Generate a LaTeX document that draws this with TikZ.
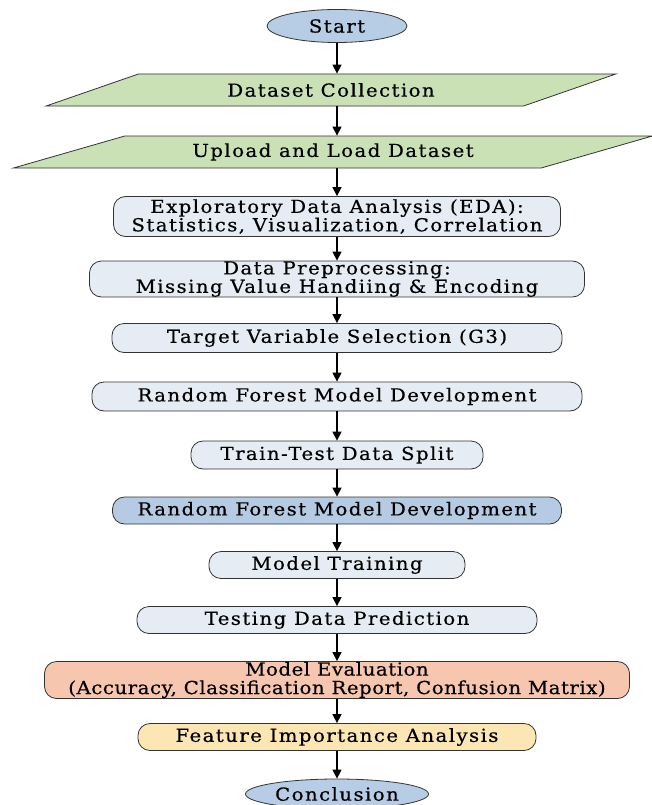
\documentclass[tikz,border=0pt]{standalone}
\usepackage{fontspec}
\usepackage{xcolor}
\usetikzlibrary{shapes.geometric,arrows.meta}

\newfontfamily\boxfont{DejaVu Serif}[FakeStretch=1.1, LetterSpace=8, FakeBold=0.5]
\newfontfamily\evalfont{DejaVu Serif}[FakeStretch=1.1, LetterSpace=3, FakeBold=0.5]

\definecolor{termblue}{HTML}{B7CDE5}
\definecolor{iogreen}{HTML}{C9E1B5}
\definecolor{procgray}{HTML}{E6ECF3}
\definecolor{modelblue}{HTML}{B5CBE3}
\definecolor{evalsalmon}{HTML}{F6C6AF}
\definecolor{featyellow}{HTML}{FCE6B3}

\begin{document}
\begin{tikzpicture}[x=1bp, y=-1bp,
    every node/.style = {draw=black!80, line width=0.8pt, align=center,
      inner sep=0pt, text=black, font=\boxfont\fontsize{18}{18.5}\selectfont},
    term/.style = {shape=ellipse, fill=termblue},
    io/.style = {shape=trapezium, trapezium stretches=true, fill=iogreen},
    proc/.style = {shape=rectangle, rounded corners=12bp, fill=procgray},
    flow/.style = {-{Triangle[length=9bp,width=9bp]}, line width=1.4pt}]
    \useasboundingbox (0,0) rectangle (652,805);
    \node[term, minimum width=140bp, minimum height=33bp] (start) at (337,26) {Start};
    \node[io, trapezium left angle=15.6, trapezium right angle=164.4,
      minimum width=572bp, minimum height=32bp] (collect) at (331,90) {Dataset Collection};
    \node[io, trapezium left angle=13, trapezium right angle=167,
      minimum width=640bp, minimum height=32bp] (upload) at (333,152) {Upload and Load Dataset};
    \node[proc, minimum width=447bp, minimum height=40bp] (eda) at (337,216.5)
      {Exploratory Data Analysis (EDA):\\Statistics, Visualization, Correlation};
    \node[proc, minimum width=495bp, minimum height=36bp] (prep) at (337,279)
      {Data Preprocessing:\\Missing Value Handiing \& Encoding};
    \node[proc, minimum width=450bp, minimum height=29bp] (target) at (337,338)
      {Target Variable Selection (G3)};
    \node[proc, minimum width=490bp, minimum height=29bp] (rfdev) at (337,396.5)
      {Random Forest Model Development};
    \node[proc, minimum width=292bp, minimum height=28bp] (split) at (337,455)
      {Train-Test Data Split};
    \node[proc, fill=modelblue, minimum width=449bp, minimum height=27bp] (rfmodel) at (337,510.5)
      {Random Forest Model Development};
    \node[proc, minimum width=256bp, minimum height=27bp] (train) at (337,565)
      {Model Training};
    \node[proc, minimum width=400bp, minimum height=27bp] (predict) at (337,620)
      {Testing Data Prediction};
    \node[proc, fill=evalsalmon, minimum width=585bp, minimum height=37bp,
      font=\evalfont\fontsize{18}{18.5}\selectfont] (evaluate) at (337,680)
      {Model Evaluation\\(Accuracy, Classification Report, Confusion Matrix)};
    \node[proc, fill=featyellow, minimum width=398bp, minimum height=27bp] (feature) at (337,737)
      {Feature Importance Analysis};
    \node[term, minimum width=183bp, minimum height=30bp] (conclude) at (337,794) {Conclusion};

    \draw[flow] (start) -- (start |- collect.north);
    \draw[flow] (start |- collect.south) -- (start |- upload.north);
    \draw[flow] (start |- upload.south) -- (eda);
    \draw[flow] (eda) -- (prep);
    \draw[flow] (prep) -- (target);
    \draw[flow] (target) -- (rfdev);
    \draw[flow] (rfdev) -- (split);
    \draw[flow] (split) -- (rfmodel);
    \draw[flow] (rfmodel) -- (train);
    \draw[flow] (train) -- (predict);
    \draw[flow] (predict) -- (evaluate);
    \draw[flow] (evaluate) -- (feature);
    \draw[flow] (feature) -- (conclude);
  \end{tikzpicture}
\end{document}
